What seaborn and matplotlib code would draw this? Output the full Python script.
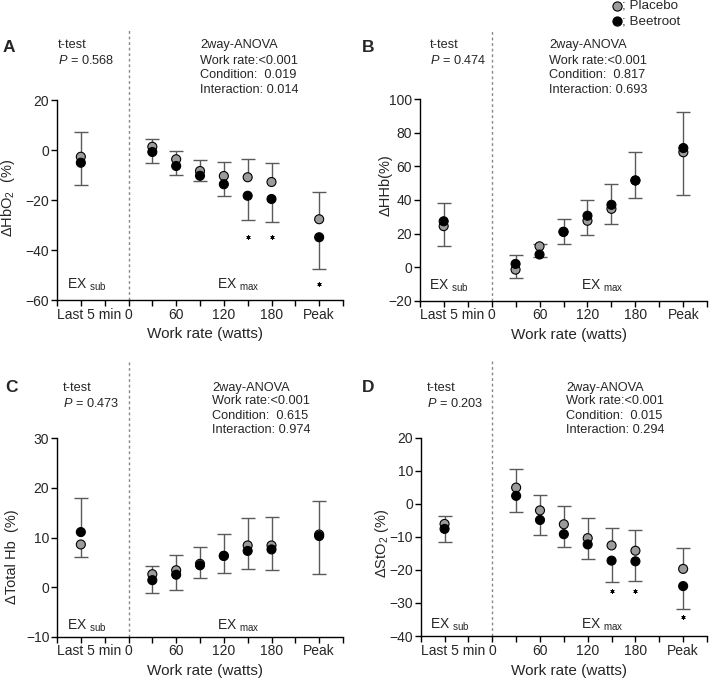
import numpy as np
import pandas as pd
import matplotlib
matplotlib.use('Agg')
import matplotlib.pyplot as plt
import seaborn as sns
from matplotlib.lines import Line2D
from matplotlib.transforms import blended_transform_factory

# work rate slots (watts): -60 = "Last 5 min" of EX sub, 240 = Peak
work_rate = [-60, 30, 60, 90, 120, 150, 180, 240]
tick_pos = [-49, 0, 60, 120, 180, 240]
tick_labels = ['Last 5 min', '0', '60', '120', '180', 'Peak']

# A: HbO2
hbo2_placebo = [-2.7, 1.3, -3.7, -8.4, -10.4, -10.9, -12.8, -27.7]
hbo2_beetroot = [-5.1, -0.8, -6.4, -10.3, -13.7, -18.3, -19.6, -34.9]
hbo2_placebo_sd = [10.0, 3.1, 3.3, 4.4, 5.5, 7.3, 7.5, 10.9]
hbo2_beetroot_sd = [8.9, 4.3, 3.5, 2.1, 4.6, 9.6, 9.2, 12.6]
hbo2_sig_x = [150, 180, 240]
hbo2_sig_y = [-34.9, -34.9, -53.6]

# B: HHb
hhb_placebo = [24.4, -1.5, 12.4, 21.0, 27.6, 34.7, 51.6, 68.4]
hhb_beetroot = [27.3, 1.9, 7.5, 21.0, 30.6, 37.1, 51.6, 70.9]
hhb_placebo_sd = [11.6, 5.0, 1.2, 7.5, 8.4, 9.1, 17.2, 25.7]
hhb_beetroot_sd = [11.0, 5.1, 1.2, 7.4, 9.3, 12.3, 10.7, 21.3]

# C: Total Hb
thb_placebo = [8.6, 2.6, 3.4, 4.7, 6.3, 8.4, 8.4, 10.6]
thb_beetroot = [11.1, 1.4, 2.5, 4.4, 6.3, 7.3, 7.6, 10.3]
thb_placebo_sd = [2.5, 1.7, 3.1, 3.3, 4.4, 5.5, 5.8, 6.8]
thb_beetroot_sd = [6.9, 2.5, 3.1, 2.6, 3.4, 3.6, 4.1, 7.7]

# D: StO2
sto2_placebo = [-6.1, 4.9, -2.0, -6.2, -10.4, -12.6, -14.2, -19.7]
sto2_beetroot = [-7.6, 2.4, -4.9, -9.2, -12.3, -17.2, -17.4, -24.9]
sto2_placebo_sd = [2.5, 5.6, 4.8, 5.5, 6.2, 5.4, 6.2, 6.3]
sto2_beetroot_sd = [4.0, 4.9, 4.4, 3.9, 4.4, 6.4, 6.0, 6.8]
sto2_sig_x = [150, 180, 240]
sto2_sig_y = [-26.3, -26.3, -34.2]

sns.set_style('white')
plt.rcParams['font.family'] = ['Liberation Sans', 'DejaVu Sans']
plt.rcParams['mathtext.fontset'] = 'custom'
plt.rcParams['mathtext.rm'] = 'Liberation Sans'
plt.rcParams['mathtext.it'] = 'Liberation Sans:italic'
plt.rcParams['mathtext.bf'] = 'Liberation Sans:bold'

W, H = 709, 681
fig = plt.figure(figsize=(W / 100, H / 100), dpi=100)

GRAY = '#9b9b9b'
ERR = '#5a5a5a'
TXT = 9.2


def ftext(x, y, s, **kw):
    fig.text(x / W, 1 - y / H, s, va='center', **kw)


def one_sided(ax, x, mean, sd, mask, upward):
    # bar only on one side, no cap on the marker side
    if not mask.any():
        return
    xs, ms, ss = x[mask], mean[mask], sd[mask]
    zeros = np.zeros_like(ss)
    yerr = [zeros, ss] if upward else [ss, zeros]
    _, caps, _ = ax.errorbar(xs, ms, yerr=yerr, fmt='none', ecolor=ERR,
                             elinewidth=1, capsize=5, capthick=1, zorder=2)
    for c in caps:
        if np.allclose(c.get_ydata(), ms):
            c.set_visible(False)


def draw_panel(rect, placebo, beetroot, p_sd, b_sd, ylim, yticks, ylabel,
               ylabel_xy, sig_x=None, sig_y=None, ex_y=0.05):
    ax = fig.add_axes(rect)
    x = np.array(work_rate)
    p, b = np.array(placebo), np.array(beetroot)
    p_sd, b_sd = np.array(p_sd), np.array(b_sd)

    # error bar goes away from the other condition
    p_up = p >= b
    b_up = b > p
    for mean, sd, up in [(p, p_sd, p_up), (b, b_sd, b_up)]:
        one_sided(ax, x, mean, sd, up, True)
        one_sided(ax, x, mean, sd, ~up, False)

    df = pd.DataFrame({
        'work_rate': list(x) * 2,
        'value': list(p) + list(b),
        'condition': ['Placebo'] * len(x) + ['Beetroot'] * len(x),
    })
    sns.scatterplot(data=df, x='work_rate', y='value', hue='condition',
                    palette={'Placebo': GRAY, 'Beetroot': 'black'},
                    s=42, edgecolor='black', linewidth=0.8, legend=False,
                    ax=ax, zorder=3)

    if sig_x is not None:
        ax.plot(sig_x, sig_y, ls='none', marker=(6, 2, 0), ms=3,
                mew=0.6, color='black', zorder=3)

    ax.axvline(0, color='#888888', lw=1, ls=(0, (2, 2)), zorder=1)

    ax.set_xlim(-90, 270)
    ax.set_ylim(*ylim)
    ax.set_yticks(yticks)
    ax.spines['left'].set_bounds(yticks[0], yticks[-1])
    for s in ['top', 'right']:
        ax.spines[s].set_visible(False)
    for s in ['left', 'bottom']:
        ax.spines[s].set_linewidth(1)
        ax.spines[s].set_color('black')

    ax.set_xticks(tick_pos)
    ax.set_xticklabels(tick_labels)
    ax.set_xticks(range(-90, 271, 30), minor=True)
    ax.xaxis.remove_overlapping_locs = False
    ax.tick_params(axis='x', which='major', length=0, pad=5.5, labelsize=10)
    ax.tick_params(axis='x', which='minor', length=4, width=1, color='black',
                   direction='out', bottom=True)
    ax.tick_params(axis='y', length=4, width=1, color='black', pad=1.5,
                   labelsize=10, direction='out', left=True)

    ax.set_ylabel(ylabel, fontsize=10.5)
    ax.yaxis.set_label_coords(*ylabel_xy)
    ax.set_xlabel('Work rate (watts)', fontsize=11)
    ax.xaxis.set_label_coords(0.518, -0.1)

    tr = blended_transform_factory(ax.transData, ax.transAxes)
    ax.text(-78, ex_y, r'EX $_{\mathregular{sub}}$', transform=tr,
            fontsize=10, va='center', ha='left')
    ax.text(112, ex_y, r'EX $_{\mathregular{max}}$', transform=tr,
            fontsize=10, va='center', ha='left')
    return ax


draw_panel([57 / W, 1 - 300 / H, 286 / W, 270 / H],
           hbo2_placebo, hbo2_beetroot, hbo2_placebo_sd, hbo2_beetroot_sd,
           (-60, 48), [-60, -40, -20, 0, 20], r'ΔHbO$_2$  (%)',
           (-0.14, 0.378), hbo2_sig_x, hbo2_sig_y, ex_y=0.058)
draw_panel([419.7 / W, 1 - 300.7 / H, 287.6 / W, 270.7 / H],
           hhb_placebo, hhb_beetroot, hhb_placebo_sd, hhb_beetroot_sd,
           (-20, 141.2), [-20, 0, 20, 40, 60, 80, 100], 'ΔHHb(%)',
           (-0.094, 0.427), ex_y=0.054)
draw_panel([57 / W, 1 - 636.7 / H, 286 / W, 276.7 / H],
           thb_placebo, thb_beetroot, thb_placebo_sd, thb_beetroot_sd,
           (-10, 45.8), [-10, 0, 10, 20, 30], 'ΔTotal Hb  (%)',
           (-0.134, 0.288), ex_y=0.04)
draw_panel([420.7 / W, 1 - 636 / H, 286.3 / W, 276 / H],
           sto2_placebo, sto2_beetroot, sto2_placebo_sd, sto2_beetroot_sd,
           (-40, 43.5), [-40, -30, -20, -10, 0, 10, 20], r'ΔStO$_2$ (%)',
           (-0.102, 0.337), sto2_sig_x, sto2_sig_y, ex_y=0.04)

# panel letters and statistics text
panel_text = [
    ('A', 9, 47, 58, 45, 61, '0.568', 200, [45, 61, 75, 90], '0.019', '0.014'),
    ('B', 368, 47, 430, 45, 61, '0.474', 549, [45, 61, 75, 90], '0.817', '0.693'),
    ('C', 11, 387, 63, 388, 403, '0.473', 212, [388, 401, 416, 430], '0.615', '0.974'),
    ('D', 368, 387, 427, 388, 403, '0.203', 566, [388, 401, 416, 430], '0.015', '0.294'),
]
for letter, lx, ly, tx, ty, py, pval, ax_x, ays, cond, inter in panel_text:
    ftext(lx, ly, letter, fontsize=12.5, fontweight='bold', ha='center')
    ftext(tx, ty, 't-test', fontsize=TXT, ha='left')
    ftext(tx, py, r'$P$ = ' + pval, fontsize=TXT, ha='left')
    lines = ['2way-ANOVA', 'Work rate:<0.001',
             'Condition:  ' + cond, 'Interaction: ' + inter]
    for s, yy in zip(lines, ays):
        ftext(ax_x, yy, s, fontsize=TXT, ha='left')

# legend
for yy, face, lab in [(6, GRAY, '; Placebo'), (21, 'black', '; Beetroot')]:
    fig.add_artist(Line2D([616.5 / W], [1 - yy / H], marker='o', ms=6.6,
                          mfc=face, mec='black', mew=0.8, ls='none',
                          transform=fig.transFigure))
    ftext(622.5, yy, lab, fontsize=9.6, ha='left')

fig.savefig('out.png', dpi=100)
